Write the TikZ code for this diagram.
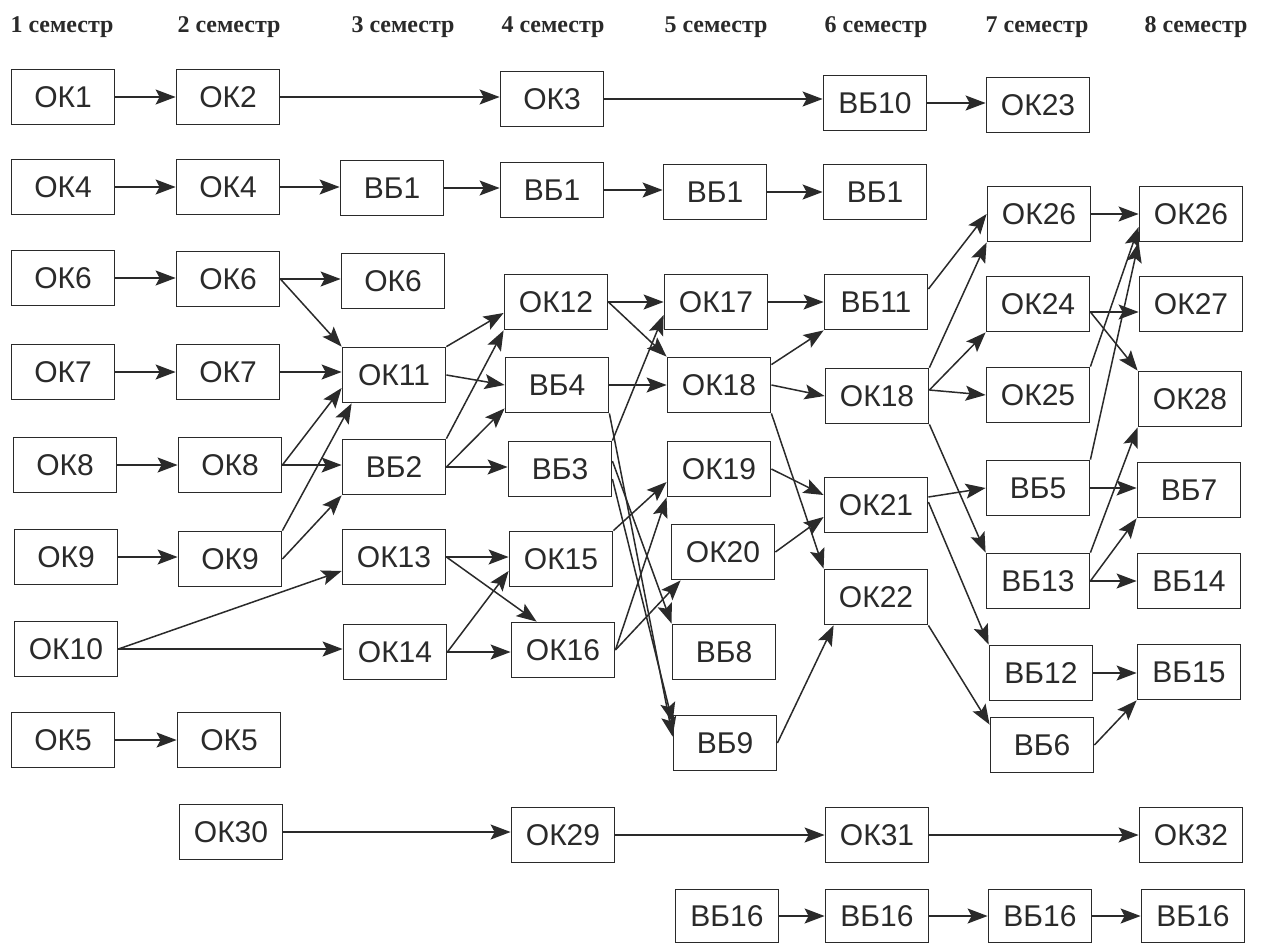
\documentclass[tikz,border=0pt]{standalone}
\usepackage{fontspec}
\setmainfont{Liberation Sans}
\newfontfamily\hdrfont{Liberation Serif}
\usetikzlibrary{arrows.meta}
\definecolor{ink}{HTML}{2A2A2A}
\tikzset{
  box/.style={draw=ink, line width=1.8pt, minimum width=103pt, minimum height=55pt, inner sep=0pt, text=ink, font=\fontsize{30}{32}\selectfont},
  hdr/.style={text=ink, font=\hdrfont\bfseries\fontsize{24}{26}\selectfont, inner sep=0pt},
  arr/.style={draw=ink, line width=1.5pt, -{Stealth[length=20pt,width=15pt,inset=4pt]}},
}
\begin{document}
\begin{tikzpicture}[x=1pt,y=-1pt]
\useasboundingbox[fill=white] (0,0) rectangle (1269,945);
% headers
\node[hdr] (s1) at (62,27) {1 семестр};
\node[hdr] (s2) at (229,27) {2 семестр};
\node[hdr] (s3) at (403,27) {3 семестр};
\node[hdr] (s4) at (553,27) {4 семестр};
\node[hdr] (s5) at (716,27) {5 семестр};
\node[hdr] (s6) at (876,27) {6 семестр};
\node[hdr] (s7) at (1037,27) {7 семестр};
\node[hdr] (s8) at (1196,27) {8 семестр};
% column 1
\node[box] (a1) at (63,97) {ОК1};
\node[box] (a4) at (63,187) {ОК4};
\node[box] (a6) at (63,278) {ОК6};
\node[box] (a7) at (63,372) {ОК7};
\node[box] (a8) at (65,465) {ОК8};
\node[box] (a9) at (66,557) {ОК9};
\node[box] (a10) at (66,649) {ОК10};
\node[box] (a5) at (63,740) {ОК5};
% column 2
\node[box] (b2) at (228,97) {ОК2};
\node[box] (b4) at (228,187) {ОК4};
\node[box] (b6) at (228,279) {ОК6};
\node[box] (b7) at (228,372) {ОК7};
\node[box] (b8) at (230,465) {ОК8};
\node[box] (b9) at (230,559) {ОК9};
\node[box] (b5) at (229,740) {ОК5};
\node[box] (b30) at (231,832) {ОК30};
% column 3
\node[box] (c1) at (392,188) {ВБ1};
\node[box] (c6) at (393,281) {ОК6};
\node[box] (c11) at (394,375) {ОК11};
\node[box] (c2) at (394,467) {ВБ2};
\node[box] (c13) at (394,557) {ОК13};
\node[box] (c14) at (395,652) {ОК14};
% column 4
\node[box] (d3) at (552,99) {ОК3};
\node[box] (d1) at (552,190) {ВБ1};
\node[box] (d12) at (556,302) {ОК12};
\node[box] (d4) at (557,385) {ВБ4};
\node[box] (d3b) at (560,469) {ВБ3};
\node[box] (d15) at (561,559) {ОК15};
\node[box] (d16) at (563,650) {ОК16};
\node[box] (d29) at (563,835) {ОК29};
% column 5
\node[box] (e1) at (715,192) {ВБ1};
\node[box] (e17) at (716,302) {ОК17};
\node[box] (e18) at (719,385) {ОК18};
\node[box] (e19) at (719,469) {ОК19};
\node[box] (e20) at (723,552) {ОК20};
\node[box] (e8) at (724,652) {ВБ8};
\node[box] (e9) at (725,743) {ВБ9};
\node[box, minimum height=53pt] (e16) at (727,916) {ВБ16};
% column 6
\node[box] (f10) at (875,103) {ВБ10};
\node[box] (f1) at (875,192) {ВБ1};
\node[box] (f11) at (876,302) {ВБ11};
\node[box] (f18) at (877,396) {ОК18};
\node[box] (f21) at (876,505) {ОК21};
\node[box] (f22) at (876,597) {ОК22};
\node[box] (f31) at (877,835) {ОК31};
\node[box, minimum height=53pt] (f16) at (877,916) {ВБ16};
% column 7
\node[box] (g23) at (1038,105) {ОК23};
\node[box] (g26) at (1039,214) {ОК26};
\node[box] (g24) at (1038,304) {ОК24};
\node[box] (g25) at (1038,395) {ОК25};
\node[box] (g5) at (1038,488) {ВБ5};
\node[box] (g13) at (1038,581) {ВБ13};
\node[box] (g12) at (1041,673) {ВБ12};
\node[box] (g6) at (1042,745) {ВБ6};
\node[box, minimum height=53pt] (g16) at (1040,916) {ВБ16};
% column 8
\node[box] (h26) at (1191,214) {ОК26};
\node[box] (h27) at (1191,304) {ОК27};
\node[box] (h28) at (1190,399) {ОК28};
\node[box] (h7) at (1189,490) {ВБ7};
\node[box] (h14) at (1189,581) {ВБ14};
\node[box] (h15) at (1189,672) {ВБ15};
\node[box] (h32) at (1191,835) {ОК32};
\node[box, minimum height=53pt] (h16) at (1193,916) {ВБ16};
% horizontal chains
\draw[arr] (a1.east) -- (a1.east -| b2.west);
\draw[arr] (b2.east) -- (b2.east -| d3.west);
\draw[arr] (d3.east) -- (d3.east -| f10.west);
\draw[arr] (f10.east) -- (f10.east -| g23.west);
\draw[arr] (a4.east) -- (a4.east -| b4.west);
\draw[arr] (b4.east) -- (b4.east -| c1.west);
\draw[arr] (c1.east) -- (c1.east -| d1.west);
\draw[arr] (d1.east) -- (d1.east -| e1.west);
\draw[arr] (e1.east) -- (e1.east -| f1.west);
\draw[arr] (a6.east) -- (a6.east -| b6.west);
\draw[arr] (b6.east) -- (b6.east -| c6.west);
\draw[arr] (a7.east) -- (a7.east -| b7.west);
\draw[arr] (b7.east) -- (b7.east -| c11.west);
\draw[arr] (a8.east) -- (a8.east -| b8.west);
\draw[arr] (b8.east) -- (b8.east -| c2.west);
\draw[arr] (a9.east) -- (a9.east -| b9.west);
\draw[arr] (a10.east) -- (a10.east -| c14.west);
\draw[arr] (a5.east) -- (a5.east -| b5.west);
\draw[arr] (b30.east) -- (b30.east -| d29.west);
\draw[arr] (d29.east) -- (d29.east -| f31.west);
\draw[arr] (f31.east) -- (f31.east -| h32.west);
\draw[arr] (e16.east) -- (e16.east -| f16.west);
\draw[arr] (f16.east) -- (f16.east -| g16.west);
\draw[arr] (g16.east) -- (g16.east -| h16.west);
% column 2 -> 3
\draw[arr] (b6.east) -- (c11.north west);
\draw[arr] (b8.east) -- ([yshift=-13pt]c11.west);
\draw[arr] (b9.north east) -- ([xshift=10pt]c11.south west);
\draw[arr] (b9.east) -- (c2.south west);
\draw[arr] (a10.east) -- ([yshift=-14pt]c13.west);
% column 3 -> 4
\draw[arr] (c11.north east) -- ([yshift=-11pt]d12.west);
\draw[arr] (c11.east) -- (d4.west);
\draw[arr] (c2.north east) -- (d12.south west);
\draw[arr] (c2.east) -- ([yshift=5pt]d4.south west);
\draw[arr] (c2.east) -- (c2.east -| d3b.west);
\draw[arr] (c13.east) -- (c13.east -| d15.west);
\draw[arr] (c13.east) -- ([xshift=26pt]d16.north west);
\draw[arr] (c14.east) -- ([yshift=-12pt]d15.west);
\draw[arr] (c14.east) -- (c14.east -| d16.west);
% column 4 -> 5
\draw[arr] (d12.east) -- (d12.east -| e17.west);
\draw[arr] (d12.east) -- (e18.north west);
\draw[arr] (d4.east) -- (d4.east -| e18.west);
\draw[arr] (d3b.north east) -- ([yshift=-13pt]e17.west);
\draw[arr] ([yshift=8pt]d3b.east) -- (e8.north west);
\draw[arr] ([yshift=-10pt]d3b.east) -- ([yshift=-8pt]e9.north west);
\draw[arr] (d4.south east) -- ([yshift=-22pt]e9.north west);
\draw[arr] (d15.north east) -- ([yshift=-13pt]e19.west);
\draw[arr] (d16.east) -- (e19.south west);
\draw[arr] (d16.east) -- ([xshift=10pt]e20.south west);
% column 5 -> 6
\draw[arr] (e17.east) -- (e17.east -| f11.west);
\draw[arr] ([yshift=-8pt]e18.north east) -- (f11.south west);
\draw[arr] (e18.east) -- (f18.west);
\draw[arr] (e18.south east) -- (f22.north west);
\draw[arr] (e19.east) -- ([yshift=10pt]f21.west);
\draw[arr] (e20.east) -- ([yshift=-12pt]f21.west);
\draw[arr] (e9.east) -- ([xshift=10pt]f22.south west);
% column 6 -> 7
\draw[arr] ([yshift=13pt]f11.east) -- (g26.west);
\draw[arr] (f18.north east) -- (g26.south west);
\draw[arr] ([yshift=6pt]f18.east) -- (g24.south west);
\draw[arr] ([yshift=6pt]f18.east) -- (g25.west);
\draw[arr] (f18.south east) -- (g13.north west);
\draw[arr] ([yshift=8pt]f21.east) -- (g5.west);
\draw[arr] ([yshift=3pt]f21.east) -- (g12.north west);
\draw[arr] (f22.south east) -- ([yshift=-8pt]g6.north west);
% column 7 -> 8
\draw[arr] (g26.east) -- (g26.east -| h26.west);
\draw[arr] ([yshift=-8pt]g24.east) -- ([yshift=-8pt]h27.west);
\draw[arr] ([yshift=-8pt]g24.east) -- (h28.north west);
\draw[arr] (g25.north east) -- ([yshift=-13pt]h26.west);
\draw[arr] (g5.north east) -- (h26.south west);
\draw[arr] (g5.east) -- (g5.east -| h7.west);
\draw[arr] (g13.north east) -- (h28.south west);
\draw[arr] (g13.east) -- (h7.south west);
\draw[arr] (g13.east) -- (g13.east -| h14.west);
\draw[arr] (g12.east) -- (g12.east -| h15.west);
\draw[arr] (g6.east) -- (h15.south west);
\end{tikzpicture}
\end{document}
